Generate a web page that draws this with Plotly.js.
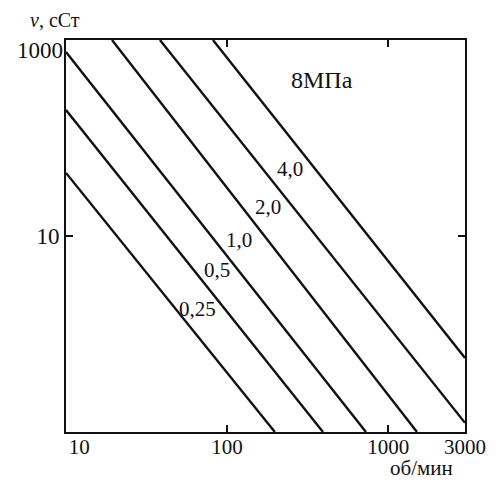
<!DOCTYPE html>
<html>
<head>
<meta charset="utf-8">
<script src="https://cdn.plot.ly/plotly-3.0.1.min.js"></script>
<style>
  html, body { margin: 0; padding: 0; background: #fff; }
  #chart { width: 496px; height: 482px; }
</style>
</head>
<body>
<div id="chart"></div>
<script>
// Pressure lines: viscosity (cSt) vs. shaft speed (rpm), log-log.
const pressureLabels = ['0,25', '0,5', '1,0', '2,0', '4,0', '8МПа'];
const rpmStart  = [10, 10, 10, 19.3, 38.3, 81.7];
const viscStart = [44, 193, 755, 1000, 1000, 1000];
const rpmEnd    = [198, 394, 728, 1510, 3000, 3000];
const viscEnd   = [0.1, 0.1, 0.1, 0.1, 0.124, 0.569];

// axis ticks
const xTickVals = [10, 100, 1000, 3000];
const xTickText = ['10', '100', '1000', '3000'];
const yTickVals = [10, 1000];
const yTickText = ['10', '1000'];

// where each pressure label sits (rpm, cSt)
const labelAt = [
  [65.9, 1.80],
  [86.5, 4.50],
  [118.6, 9.1],
  [179.5, 19.8],
  [245.6, 48.3],
  [388, 391]
];

const ink = '#111';
const serif = 'Liberation Serif, Times New Roman, serif';

const traces = pressureLabels.map((p, i) => ({
  type: 'scatter',
  mode: 'lines',
  x: [rpmStart[i], rpmEnd[i]],
  y: [viscStart[i], viscEnd[i]],
  line: { color: ink, width: 2.4 },
  hoverinfo: 'skip',
  showlegend: false
}));
// empty trace so the label-only overlay axis gets a subplot
traces.push({ type: 'scatter', mode: 'lines', x: [], y: [], xaxis: 'x', yaxis: 'y2', showlegend: false, hoverinfo: 'skip' });

const xRange = [1, Math.log10(3000)];
const yRange = [-1, 3];

const annotations = pressureLabels.map((p, i) => ({
  x: Math.log10(labelAt[i][0]),
  y: Math.log10(labelAt[i][1]),
  xref: 'x', yref: 'y',
  text: p,
  showarrow: false,
  font: { family: serif, size: i === 5 ? 24 : 21, color: ink }
}));
annotations.push({
  xref: 'paper', yref: 'paper', x: -0.095, y: 1.05, xanchor: 'left', yanchor: 'middle',
  text: '<i>ν</i>, сСт', showarrow: false,
  font: { family: serif, size: 20, color: ink }
});
annotations.push({
  xref: 'paper', yref: 'paper', x: 0.89, y: -0.127, xanchor: 'center', yanchor: 'bottom',
  text: 'об/мин', showarrow: false,
  font: { family: serif, size: 21, color: ink }
});

const xTickFont = { family: serif, size: 21, color: ink };
const yTickFont = { family: serif, size: 23, color: ink };

// the first x label is padded so it clears the corner
const pad = '\u00a0\u00a0\u00a0\u00a0\u00a0';

const layout = {
  width: 496,
  height: 482,
  margin: { l: 66, r: 31, t: 40, b: 50 },
  paper_bgcolor: '#fff',
  plot_bgcolor: '#fff',
  showlegend: false,
  xaxis: {
    type: 'log', range: xRange,
    showline: true, mirror: 'ticks', linecolor: ink, linewidth: 2,
    ticks: 'inside', ticklen: 7, tickwidth: 1.5, tickcolor: ink,
    tickvals: xTickVals, ticktext: [pad + xTickText[0], ...xTickText.slice(1)],
    tickfont: xTickFont, tickangle: 0, ticklabelstandoff: -5,
    showgrid: false, zeroline: false
  },
  yaxis: {
    type: 'log', range: yRange,
    showline: true, mirror: 'ticks', linecolor: ink, linewidth: 2,
    ticks: 'inside', ticklen: 7, tickwidth: 1.5, tickcolor: ink,
    tickvals: yTickVals, ticktext: [yTickText[0], ''],
    tickfont: yTickFont, tickangle: 0,
    showgrid: false, zeroline: false
  },
  // top y label nudged below the corner
  yaxis2: {
    type: 'log', range: yRange, overlaying: 'y', anchor: 'x', side: 'left',
    showline: false, ticks: '', showgrid: false, zeroline: false,
    tickvals: [yTickVals[1]], ticktext: [yTickText[1]],
    tickfont: yTickFont, tickangle: 0, ticklabelshift: 10, ticklabelstandoff: 2
  },
  annotations: annotations
};

Plotly.newPlot('chart', traces, layout, { displayModeBar: false, staticPlot: true });
</script>
</body>
</html>
